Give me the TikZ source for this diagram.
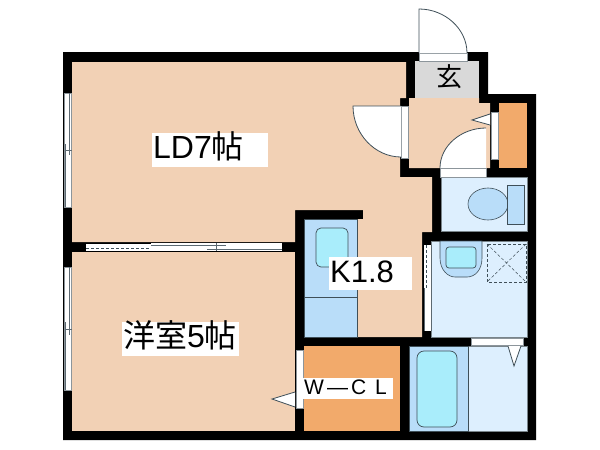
\documentclass[tikz,border=0pt]{standalone}
\usepackage{fontspec}
\setmainfont{Liberation Sans}
\newfontfamily\jpfont{Noto Sans CJK JP}
\definecolor{PeachFloor}{HTML}{F2D1B5}
\definecolor{ClosetOrange}{HTML}{F2AA6B}
\definecolor{EntryGray}{HTML}{D9D9D9}
\definecolor{PaleBlue}{HTML}{DDEFFE}
\definecolor{MidBlue}{HTML}{B9DDF9}
\definecolor{WaterBlue}{HTML}{A9EDFB}
\definecolor{FixLine}{HTML}{3F4F58}

\begin{document}
\begin{tikzpicture}[
      x=1pt, y=-1pt,
      wall/.style={fill=black},
      floorpart/.style={fill=PeachFloor},
      wetroom/.style={fill=PaleBlue, draw=FixLine!70, line width=0.5pt},
      fixture/.style={fill=MidBlue, draw=FixLine, line width=0.6pt},
      basin/.style={fill=WaterBlue, draw=FixLine, line width=0.7pt, rounded corners=5pt},
      opening/.style={fill=white, draw=FixLine!60, line width=0.4pt},
      doorleaf/.style={fill=white, draw=FixLine, line width=0.8pt},
      sash/.style={draw=FixLine!85, line width=0.6pt},
      roomlabel/.style={fill=white, anchor=north west, inner xsep=1pt, inner ysep=0pt, align=left, text height=23pt, text depth=6pt}
    ]
      \useasboundingbox (0,0) rectangle (600,450);

      % Walls
      \fill[wall] (63,52) -- (488,52) -- (488,94) -- (536,94) -- (536,440) -- (63,440) -- cycle;

      % Floors
      \fill[floorpart] (72,62) -- (406,62) -- (406,98) -- (400,98) -- (400,177) -- (432,177) -- (432,232) -- (422,232) -- (422,337) -- (357,337) -- (357,219) -- (363,219) -- (363,210) -- (295,210) -- (295,242) -- (72,242) -- cycle;
      \fill[floorpart] (409,98) -- (479,98) -- (479,103) -- (490,103) -- (490,168) -- (409,168) -- cycle;
      \fill[floorpart] (72,252) rectangle (295,431);
      \fill[EntryGray] (415,61) rectangle (479,98);
      \fill[ClosetOrange] (499,103) rectangle (527,168);
      \fill[ClosetOrange] (304,346) rectangle (400,431);

      % Wet rooms
      \path[wetroom] (441,177) rectangle (527,231);
      \path[wetroom] (431,241) rectangle (527,337);
      \path[wetroom] (468,346) rectangle (527,431);

      % Kitchen counter
      \path[fixture] (304,219) rectangle (357,337);
      \draw[FixLine, line width=0.6pt] (304,297) -- (357,297);
      \path[basin] (316,228) rectangle (348,267);

      % Bath tub
      \path[fixture] (409,346) rectangle (468,431);
      \path[basin, rounded corners=7pt] (417,351) rectangle (457,427);

      % Wash basin and washer pan
      \path[fixture] (440,241) -- (440,258) .. controls (440,270) and (448,277) .. (455,277) -- (467,277) .. controls (475,277) and (482,270) .. (482,258) -- (482,241) -- cycle;
      \path[basin, rounded corners=3pt] (446,247) -- (446,268) -- (476,268) -- (476,247) -- cycle;
      \draw[FixLine, densely dashed, line width=0.7pt] (487,244) rectangle (526,282);
      \draw[FixLine, densely dashed, line width=0.5pt] (487,244) -- (526,282) (526,244) -- (487,282);

      % Toilet
      \path[fixture] (488,204) ellipse [x radius=20, y radius=16];
      \path[fixture] (507,185) rectangle (524,224);

      % Doors
      \path[opening] (419,53) rectangle (467,61);
      \path[doorleaf] (419,53) -- (419,9) .. controls (445,9) and (467,29) .. (467,53);
      \path[opening] (401,106) rectangle (408,158);
      \path[doorleaf] (401,106) -- (353,106) .. controls (353,134) and (375,157) .. (401,157);
      \fill[white] (440,168) .. controls (440,146) and (461,128) .. (486,128) -- (486,168) -- cycle;
      \draw[FixLine, line width=0.8pt] (440,168) .. controls (440,146) and (461,128) .. (486,128);
      \path[opening] (440,168) rectangle (486,177);
      \path[opening] (491,112) rectangle (498,159);
      \path[doorleaf] (490,114) -- (472,120) -- (490,125);
      \path[opening] (296,350) rectangle (303,408);
      \path[doorleaf] (295,392) -- (272,399) -- (295,407);
      \path[opening] (471,338) rectangle (523,345);
      \path[doorleaf] (508,346) -- (514,366) -- (521,346);

      % Washroom sliding door
      \fill[white] (424,245) rectangle (431,331);
      \draw[FixLine, densely dashed, line width=0.7pt] (426,245) -- (426,288);
      \draw[sash] (424,288) -- (424,331) (431,245) -- (431,331);

      % Left windows
      \path[opening] (64,93) rectangle (71,207);
      \draw[sash] (69,93) -- (69,155) (65,144) -- (65,207) (65,150) -- (72,150);
      \path[opening] (64,267) rectangle (71,390);
      \draw[sash] (69,267) -- (69,335) (65,322) -- (65,390) (65,329) -- (72,329);

      % Sliding doors between the rooms
      \fill[white] (86,244) rectangle (151,251);
      \draw[FixLine, densely dashed, line width=0.7pt] (86,248) -- (151,248);
      \fill[white] (151,243) rectangle (282,251);
      \draw[sash] (151,245) -- (226,245) (207,249) -- (282,249) (216,243) -- (216,251);

      % Room labels
      \node[roomlabel, text width=114pt, minimum height=34pt, font=\fontsize{32}{34}\selectfont] (ldlabel) at (152,133) {LD7{\jpfont 帖}};
      \node[roomlabel, text width=115pt, minimum height=34pt, font=\fontsize{32}{34}\selectfont] (westernlabel) at (122,322) {{\jpfont 洋室}5{\jpfont 帖}};
      \node[roomlabel, text width=81pt, minimum height=33pt, font=\fontsize{31}{33}\selectfont] (kitchenlabel) at (329,257) {K1.8};
      \node[roomlabel, text width=88pt, minimum height=21pt, text height=15pt, text depth=3pt, font=\fontsize{21}{23}\selectfont] (closetlabel) at (303,378) {W\kern3pt—\kern3pt C\kern9pt L};
      \node[font=\fontsize{26}{28}\selectfont\jpfont, inner sep=0pt] (entrylabel) at (449,77) {玄};

    \end{tikzpicture}
\end{document}
